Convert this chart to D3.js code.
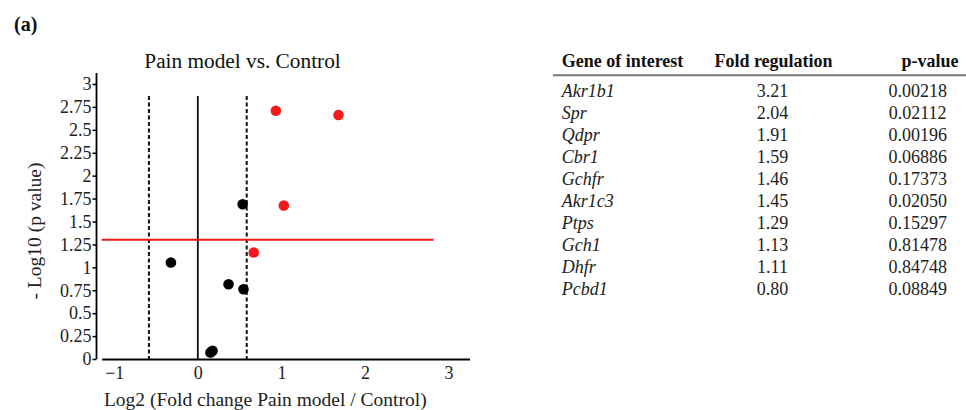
<!DOCTYPE html>
<html>
<head>
<meta charset="utf-8">
<script src="https://cdn.jsdelivr.net/npm/d3@7"></script>
<style>
  html, body { margin: 0; padding: 0; background: #fff; }
  svg { display: block; }
  svg text { font-family: "Liberation Serif", "Times New Roman", serif; }
</style>
</head>
<body>
<svg id="fig" width="966" height="410"></svg>
<script>
// Genes with their fold regulation and p-value (table + volcano plot)
const genes = ["Akr1b1", "Spr", "Qdpr", "Cbr1", "Gchfr", "Akr1c3", "Ptps", "Gch1", "Dhfr", "Pcbd1"];
const foldRegulation = [3.21, 2.04, 1.91, 1.59, 1.46, 1.45, 1.29, 1.13, 1.11, 0.80];
const pValues = [0.00218, 0.02112, 0.00196, 0.06886, 0.17373, 0.02050, 0.15297, 0.81478, 0.84748, 0.08849];
const foldLabels = ["3.21", "2.04", "1.91", "1.59", "1.46", "1.45", "1.29", "1.13", "1.11", "0.80"];
const pLabels = ["0.00218", "0.02112", "0.00196", "0.06886", "0.17373", "0.02050", "0.15297", "0.81478", "0.84748", "0.08849"];
const tableHeaders = ["Gene of interest", "Fold regulation", "p-value"];

const xTicks = [-1, 0, 1, 2, 3];
const yTicks = [0, 0.25, 0.5, 0.75, 1, 1.25, 1.5, 1.75, 2, 2.25, 2.5, 2.75, 3];
const foldCutoff = 1.5;     // fold-change threshold (dashed lines)
const pCutoff = 0.05;       // significance threshold (red line)

const serif = "'Liberation Serif', 'Times New Roman', serif";
const svg = d3.select("#fig");

// Panel label
svg.append("text").attr("x", 14).attr("y", 31)
  .attr("font-size", 20).attr("font-weight", "bold").attr("fill", "#111").text("(a)");

// ---- Volcano plot ----
const x = d3.scaleLinear().domain([-1.15, 3.25]).range([101.7, 469.5]);
const y = d3.scaleLinear().domain([0, 3.12]).range([359, 73]);

const points = genes.map((g, i) => ({
  gene: g,
  lx: Math.log2(foldRegulation[i]),
  ly: -Math.log10(pValues[i]),
  up: foldRegulation[i] > foldCutoff
}));

svg.append("text").attr("x", 242.5).attr("y", 68).attr("text-anchor", "middle")
  .attr("font-size", 21.3).attr("fill", "#111").text("Pain model vs. Control");

// Y axis
const yAxis = svg.append("g").attr("transform", "translate(96.5,0)")
  .call(d3.axisLeft(y).tickValues(yTicks).tickSize(4).tickPadding(1)
    .tickFormat(d => d3.format("")(d)))
  .attr("font-family", serif);
yAxis.select(".domain").attr("stroke", "#000").attr("stroke-width", 1.8)
  .attr("d", `M0,${y(3.12)}V${y(0)}`);
yAxis.selectAll(".tick line").attr("stroke", "#000").attr("stroke-width", 1.5);
yAxis.selectAll(".tick text").attr("font-size", 18).attr("fill", "#222");

// X axis
const xAxis = svg.append("g").attr("transform", `translate(0,${y(0)})`)
  .call(d3.axisBottom(x).tickValues(xTicks).tickSize(0).tickPadding(7)
    .tickFormat(d => d < 0 ? "\u2212" + Math.abs(d) : d))
  .attr("font-family", serif);
xAxis.select(".domain").attr("stroke", "#000").attr("stroke-width", 2);
xAxis.selectAll(".tick text").attr("font-size", 18).attr("fill", "#222");

// Reference lines
const lfc = Math.log2(foldCutoff);
svg.append("line").attr("x1", x(0)).attr("x2", x(0))
  .attr("y1", y(2.87)).attr("y2", y(0)).attr("stroke", "#111").attr("stroke-width", 1.8);
[-lfc, lfc].forEach(v => {
  svg.append("line").attr("x1", x(v)).attr("x2", x(v))
    .attr("y1", y(2.87)).attr("y2", y(0)).attr("stroke", "#111")
    .attr("stroke-width", 2).attr("stroke-dasharray", "4,2.5");
});
svg.append("line").attr("x1", x(-1.15)).attr("x2", x(2.82))
  .attr("y1", y(-Math.log10(pCutoff))).attr("y2", y(-Math.log10(pCutoff)))
  .attr("stroke", "#f01818").attr("stroke-width", 2);

// Points
svg.append("g").selectAll("circle").data(points).join("circle")
  .attr("cx", d => x(d.lx)).attr("cy", d => y(d.ly)).attr("r", 5.3)
  .attr("fill", d => d.up ? "#f21a1a" : "#000");

// Axis titles
svg.append("text").attr("transform", "translate(41,231) rotate(-90)")
  .attr("text-anchor", "middle").attr("font-size", 19.5).attr("fill", "#222")
  .text("- Log10 (p value)");
svg.append("text").attr("x", 265.3).attr("y", 406).attr("text-anchor", "middle")
  .attr("font-size", 19.5).attr("fill", "#222")
  .text("Log2 (Fold change Pain model / Control)");

// ---- Table ----
const headerX = [561.7, 773.5, 930];
const headerY = 67.3;
const rowY = d3.scaleLinear().domain([0, genes.length - 1]).range([96.7, 294.7]);

svg.append("g").selectAll("text").data(tableHeaders).join("text")
  .attr("x", (d, i) => headerX[i]).attr("y", headerY)
  .attr("text-anchor", (d, i) => i === 0 ? "start" : "middle")
  .attr("font-size", 18).attr("font-weight", "bold").attr("fill", "#111")
  .text(d => d);

svg.append("line").attr("x1", 553).attr("x2", 966).attr("y1", 75.3).attr("y2", 75.3)
  .attr("stroke", "#777").attr("stroke-width", 2);

const rows = svg.append("g").selectAll("g").data(genes).join("g");
rows.append("text").attr("x", 561.7).attr("y", (d, i) => rowY(i))
  .attr("font-size", 18).attr("font-style", "italic").attr("fill", "#222").text(d => d);
rows.append("text").attr("x", 772.5).attr("y", (d, i) => rowY(i))
  .attr("text-anchor", "middle").attr("font-size", 18).attr("fill", "#222")
  .text((d, i) => foldLabels[i]);
rows.append("text").attr("x", 917.7).attr("y", (d, i) => rowY(i))
  .attr("text-anchor", "middle").attr("font-size", 18).attr("fill", "#222")
  .text((d, i) => pLabels[i]);
</script>
</body>
</html>
